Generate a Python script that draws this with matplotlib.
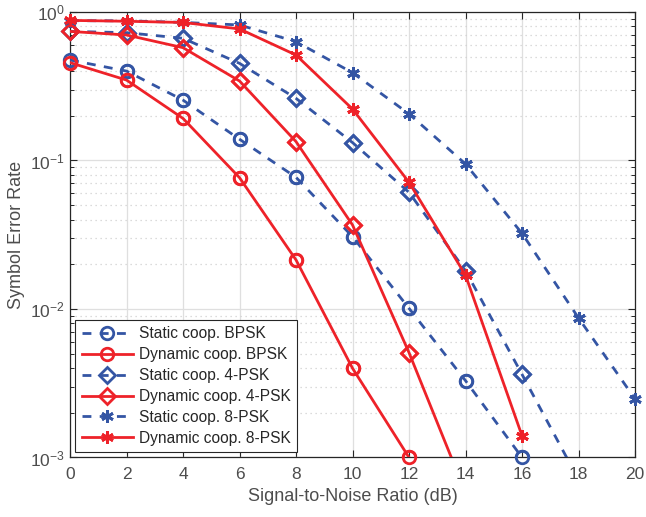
import numpy as np
import matplotlib
matplotlib.use("Agg")
import matplotlib.pyplot as plt
from matplotlib.ticker import LogLocator, NullFormatter

plt.rcParams['font.family'] = ['Liberation Sans', 'DejaVu Sans']
plt.rcParams['mathtext.fontset'] = 'custom'
plt.rcParams['mathtext.rm'] = 'Liberation Sans'

snr = [0, 2, 4, 6, 8, 10, 12, 14, 16, 18, 20]

static_bpsk = [0.475, 0.40, 0.255, 0.139, 0.077, 0.0307, 0.0101, 0.00329, 0.001]
dynamic_bpsk = [0.456, 0.348, 0.192, 0.0766, 0.0214, 0.00399, 0.001]
static_4psk = [0.74, 0.726, 0.665, 0.451, 0.262, 0.132, 0.061, 0.0181, 0.00363, 0.00071]
dynamic_4psk = [0.74, 0.70, 0.575, 0.343, 0.134, 0.0368, 0.00508, 0.00058]
static_8psk = [0.874, 0.872, 0.851, 0.818, 0.631, 0.39, 0.206, 0.0947, 0.0323, 0.0087, 0.00248]
dynamic_8psk = [0.878, 0.866, 0.85, 0.769, 0.513, 0.222, 0.0713, 0.0169, 0.0014]

labels = ["Static coop. BPSK", "Dynamic coop. BPSK", "Static coop. 4-PSK",
          "Dynamic coop. 4-PSK", "Static coop. 8-PSK", "Dynamic coop. 8-PSK"]

blue = '#3455A4'
red = '#EE2229'

fig = plt.figure(figsize=(6.46, 5.17), dpi=100)
ax = fig.add_axes([0.1084, 0.1151, 0.8746, 0.8617])

series = [
    (static_bpsk, blue, '--', 'o', labels[0]),
    (dynamic_bpsk, red, '-', 'o', labels[1]),
    (static_4psk, blue, '--', 'D', labels[2]),
    (dynamic_4psk, red, '-', 'D', labels[3]),
    (static_8psk, blue, '--', (6, 2, 0), labels[4]),
    (dynamic_8psk, red, '-', (6, 2, 0), labels[5]),
]

ymin, ymax = 1e-3, 1.0
for vals, col, ls, mk, lab in series:
    x = np.array(snr[:len(vals)])
    v = np.array(vals)
    ms = 8.5 if mk == 'D' else 9
    mkw = dict(marker=mk, markersize=ms, markeredgewidth=2.0)
    if mk in ('o', 'D'):
        mkw.update(markerfacecolor='none', markeredgecolor=col)
    else:
        mkw.update(markerfacecolor=col, markeredgecolor=col)
    lkw = dict(color=col, linestyle=ls, linewidth=2.0, label=lab)
    if ls == '--':
        lkw['dashes'] = (3.2, 3.0)
    ax.plot(x, v, clip_on=True, **lkw, **mkw)
    inside = (v >= ymin * 0.999) & (v <= ymax)
    ax.plot(x[inside], v[inside], linestyle='none', clip_on=False, color=col, **mkw)

ax.set_yscale('log')
ax.set_xlim(0, 20)
ax.set_ylim(ymin, ymax)
ax.set_xticks(np.arange(0, 21, 2))
ax.yaxis.set_major_locator(LogLocator(base=10, numticks=10))
ax.yaxis.set_minor_locator(LogLocator(base=10, subs=np.arange(2, 10), numticks=20))
ax.yaxis.set_minor_formatter(NullFormatter())

ax.grid(True, which='major', color='#DFDFDF', linewidth=0.9, linestyle='-')
ax.grid(True, which='minor', axis='y', color='#D0D0D0', linewidth=0.9, linestyle=(0, (1, 3)))
ax.set_axisbelow(True)

ax.tick_params(which='both', direction='in', top=True, right=True,
               colors='#262626', labelcolor='#4D4D4D', labelsize=12.5)
ax.tick_params(which='major', length=5, width=0.8)
ax.tick_params(which='minor', length=3, width=0.7)
ax.tick_params(axis='x', pad=7)
for s in ax.spines.values():
    s.set_color('#262626')
    s.set_linewidth(0.9)
    s.set_zorder(1.5)

ax.set_xlabel('Signal-to-Noise Ratio (dB)', fontsize=13, color='#4D4D4D', labelpad=4)
ax.set_ylabel('Symbol Error Rate', fontsize=13, color='#4D4D4D', labelpad=4)

leg = ax.legend(loc='lower left', fontsize=11.2, frameon=True, fancybox=False,
                edgecolor='#262626', framealpha=1, handlelength=3.3,
                labelspacing=0.38, borderaxespad=0.35, handletextpad=0.4,
                borderpad=0.4)
leg.get_frame().set_linewidth(0.8)
leg.set_zorder(5)
for t in leg.get_texts():
    t.set_color('#262626')

fig.savefig('out.png', dpi=100)
